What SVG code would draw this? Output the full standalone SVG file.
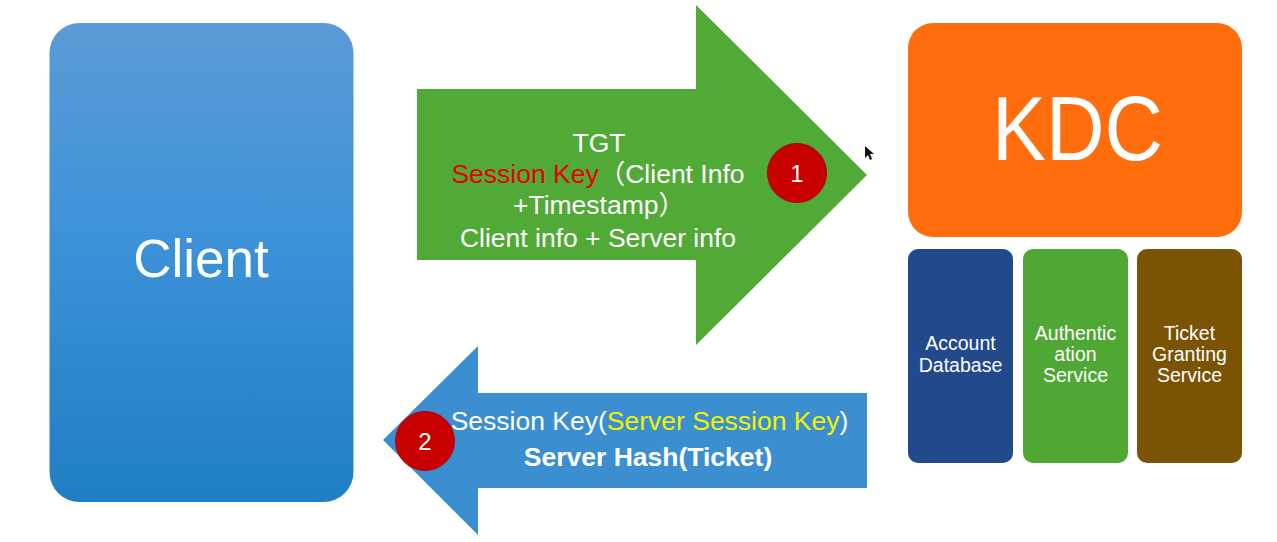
<svg xmlns="http://www.w3.org/2000/svg" width="1277" height="542" viewBox="0 0 1277 542">
  <defs>
    <linearGradient id="clientGrad" x1="0" y1="0" x2="0" y2="1">
      <stop offset="0" stop-color="#5b9bd6"/>
      <stop offset="0.45" stop-color="#3d92d8"/>
      <stop offset="1" stop-color="#1f7ec4"/>
    </linearGradient>
    <style>
      text { font-family: "Liberation Sans", Arial, "Noto Sans CJK SC", sans-serif; fill: #ffffff; }
      .badge { fill: #c80000; stroke: #b00000; stroke-width: 1; }
      .badgeText { font-size: 24px; text-anchor: middle; }
      .msg { font-size: 26.5px; text-anchor: middle; }
      .sub { font-size: 19.5px; text-anchor: middle; }
      .red { fill: #e60000; }
      .yellow { fill: #f2f200; }
    </style>
  </defs>
  <rect width="1277" height="542" fill="#ffffff"/>

  <g id="client">
    <rect x="49.5" y="23" width="304" height="479" rx="30" fill="url(#clientGrad)"/>
    <text x="201" y="277" font-size="53" text-anchor="middle">Client</text>
  </g>

  <g id="kdc">
    <rect x="908" y="23" width="334" height="214" rx="25" fill="#ff6d0d"/>
    <text x="992" y="160" font-size="90" textLength="171" lengthAdjust="spacingAndGlyphs">KDC</text>
  </g>

  <g id="account-database">
    <rect x="908" y="249" width="105" height="214" rx="10" fill="#22498c"/>
    <text class="sub" x="960.5" y="350">Account</text>
    <text class="sub" x="960.5" y="372">Database</text>
  </g>

  <g id="authentication-service">
    <rect x="1023" y="249" width="105" height="214" rx="10" fill="#4fa833"/>
    <text class="sub" x="1075.5" y="340">Authentic</text>
    <text class="sub" x="1075.5" y="361">ation</text>
    <text class="sub" x="1075.5" y="382">Service</text>
  </g>

  <g id="ticket-granting-service">
    <rect x="1137" y="249" width="105" height="214" rx="10" fill="#7a5305"/>
    <text class="sub" x="1189.5" y="340">Ticket</text>
    <text class="sub" x="1189.5" y="361">Granting</text>
    <text class="sub" x="1189.5" y="382">Service</text>
  </g>

  <g id="connectors">
    <g id="arrow-1">
      <polygon points="417,89 696,89 696,5 867,175 696,345 696,260 417,260" fill="#51a936"/>
      <text class="msg" x="599" y="152">TGT</text>
      <text class="msg" x="598" y="183"><tspan class="red">Session Key</tspan>（Client Info</text>
      <text class="msg" x="599" y="214">+Timestamp）</text>
      <text class="msg" x="598" y="247">Client info + Server info</text>
      <circle class="badge" cx="797" cy="173" r="29.5"/>
      <text class="badgeText" x="797" y="182">1</text>
    </g>
    <g id="arrow-2">
      <polygon points="867,393 478,393 478,346 383,440 478,535 478,488 867,488" fill="#3b8fd0"/>
      <text class="msg" x="649.5" y="430">Session Key(<tspan class="yellow">Server Session Key</tspan>)</text>
      <text class="msg" x="648" y="466" font-weight="bold" font-size="28">Server Hash(Ticket)</text>
      <circle class="badge" cx="425" cy="441" r="29.5"/>
      <text class="badgeText" x="425" y="450">2</text>
    </g>
  </g>

  <polygon points="865,146 865,158 868,155 870,160 872,159 870,154 874,154" fill="#111111"/>
</svg>
